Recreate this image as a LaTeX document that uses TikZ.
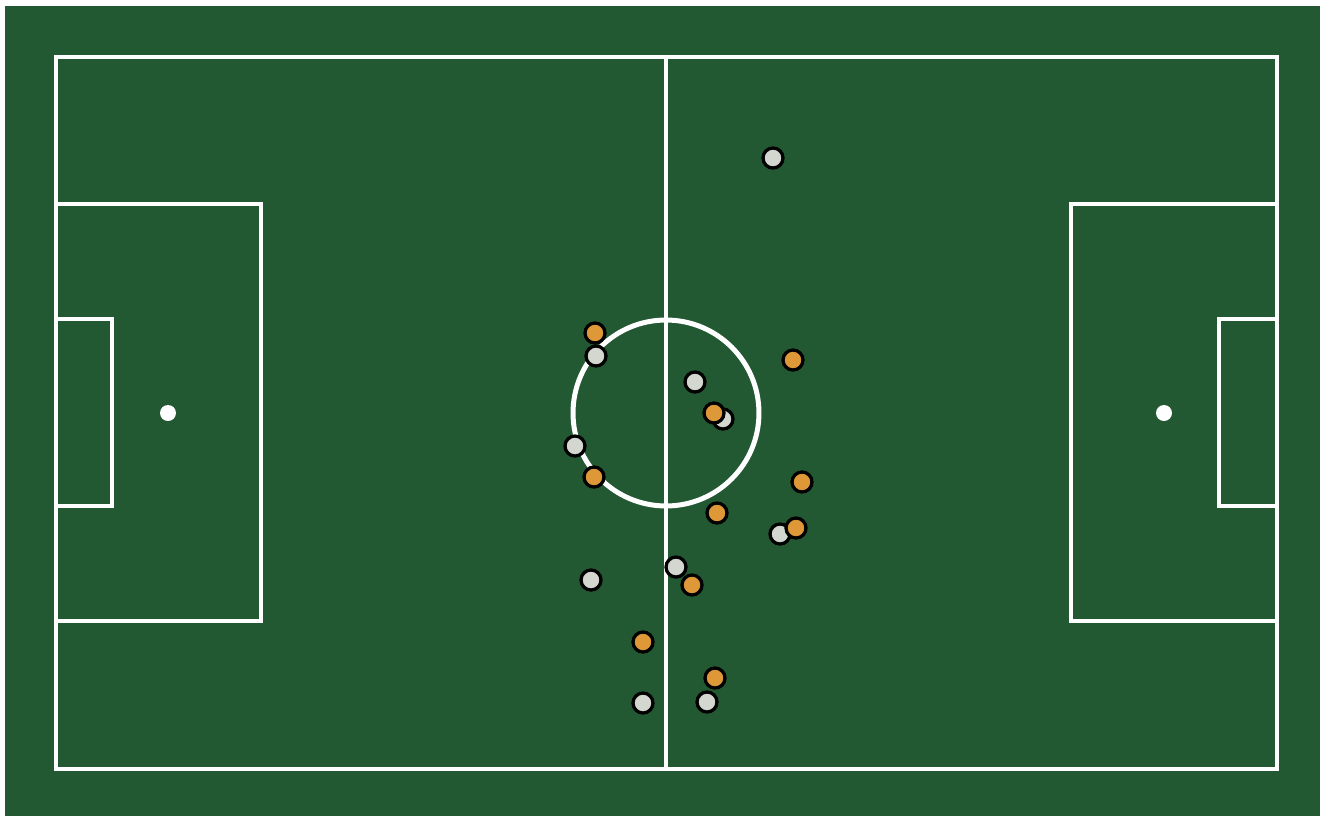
\documentclass[tikz,border=0pt]{standalone}
\usepackage{tikz}
\usetikzlibrary{positioning}
\definecolor{pitchgreen}{HTML}{225832}
\definecolor{homeorange}{HTML}{DE9838}
\definecolor{awaygrey}{HTML}{D3D7D0}
\begin{document}
\begin{tikzpicture}[
        x=0.02cm, y=-0.02cm,
        pitchline/.style={draw=white, line width=0.09cm},
        player/.style={circle, draw=black, line width=0.065cm, minimum size=0.4cm, inner sep=0pt},
        home/.style={player, fill=homeorange},
        away/.style={player, fill=awaygrey},
        spot/.style={circle, fill=white, minimum size=0.32cm, inner sep=0pt}
    ]
        \useasboundingbox (0,0) rectangle (1320,816);
        \fill[white] (0,0) rectangle (1320,816);
        \fill[pitchgreen] (5,6) rectangle (1320,816);

        % pitch markings
        \draw[pitchline] (56,57) rectangle (1277,769);
        \draw[pitchline] (666,57) -- (666,769);
        \coordinate (centre) at (666,413);
        \draw[pitchline, line width=0.1cm] (centre) circle[radius=1.86cm];
        \draw[pitchline] (56,204) rectangle (261,621);
        \draw[pitchline] (56,319) rectangle (112,506);
        \draw[pitchline] (1277,204) rectangle (1071,621);
        \draw[pitchline] (1277,319) rectangle (1219,506);
        \node[spot] (leftspot) at (168,413) {};
        \node[spot] (rightspot) at (1164,413) {};

        % grey team
        \node[away] (g1) at (773,158) {};
        \node[away] (g2) at (596,356) {};
        \node[away] (g3) at (695,382) {};
        \node[away] (g4) at (723,419) {};
        \node[away] (g5) at (575,446) {};
        \node[away] (g6) at (780,534) {};
        \node[away] (g7) at (591,580) {};
        \node[away] (g8) at (676,567) {};
        \node[away] (g9) at (643,703) {};
        \node[away] (g10) at (707,702) {};

        % orange team
        \node[home] (o1) at (595,333) {};
        \node[home] (o2) at (793,360) {};
        \node[home] (o3) at (714,413) {};
        \node[home] (o4) at (594,477) {};
        \node[home] (o5) at (802,482) {};
        \node[home] (o6) at (717,513) {};
        \node[home] (o7) at (796,528) {};
        \node[home] (o8) at (692,585) {};
        \node[home] (o9) at (643,642) {};
        \node[home] (o10) at (715,678) {};
    \end{tikzpicture}
\end{document}
